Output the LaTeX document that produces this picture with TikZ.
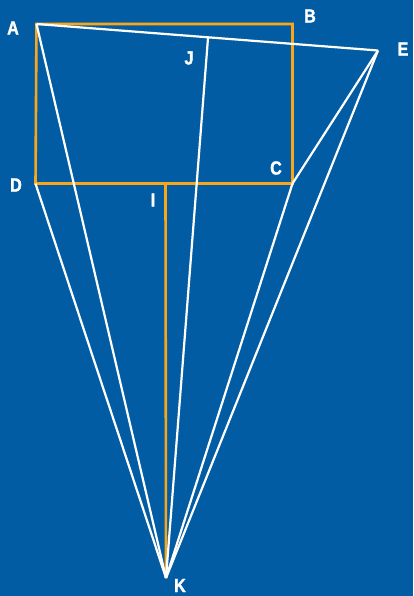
\documentclass[tikz,border=0pt]{standalone}
\usepackage{fontspec}
\newfontfamily\lab[FakeStretch=0.85,FakeBold=1.5]{Liberation Sans}
\definecolor{bg}{HTML}{025CA3}
\definecolor{org}{HTML}{FAA61A}
\begin{document}
\begin{tikzpicture}[x=1pt,y=-1pt,
  wl/.style={draw=white,line width=2.2pt,line join=round},
  ol/.style={draw=org,line width=2.6pt},
  lbl/.style={text=white,font=\lab\bfseries\fontsize{19}{19}\selectfont,inner sep=0pt}]
\fill[bg] (0,0) rectangle (413,596);
\useasboundingbox (0,0) rectangle (413,596);
\coordinate (A) at (36.5,24);
\coordinate (B) at (292.5,24);
\coordinate (C) at (292.5,183.5);
\coordinate (D) at (35.5,183.5);
\coordinate (E) at (378,50.5);
\coordinate (J) at (208,38);
\coordinate (I) at (165.5,183.5);
\coordinate (K) at (166,578);
\draw[ol] (A) -- (B) -- (C) -- (D) -- cycle;
\draw[ol] (I) -- (K);
\draw[wl] (A) -- (E);
\draw[wl] (A) -- (K);
\draw[wl] (J) -- (K);
\draw[wl] (D) -- (K);
\draw[wl] (C) -- (K);
\draw[wl] (E) -- (K);
\draw[wl] (C) -- (E);
\node[lbl] (lA) at (13,28) {A};
\node[lbl] (lB) at (310,16) {B};
\node[lbl] (lE) at (403,49) {E};
\node[lbl] (lJ) at (189,58) {J};
\node[lbl] (lC) at (276,168) {C};
\node[lbl] (lD) at (16,185) {D};
\node[lbl] (lI) at (153,200) {I};
\node[lbl] (lK) at (180,585.5) {K};
\end{tikzpicture}
\end{document}
